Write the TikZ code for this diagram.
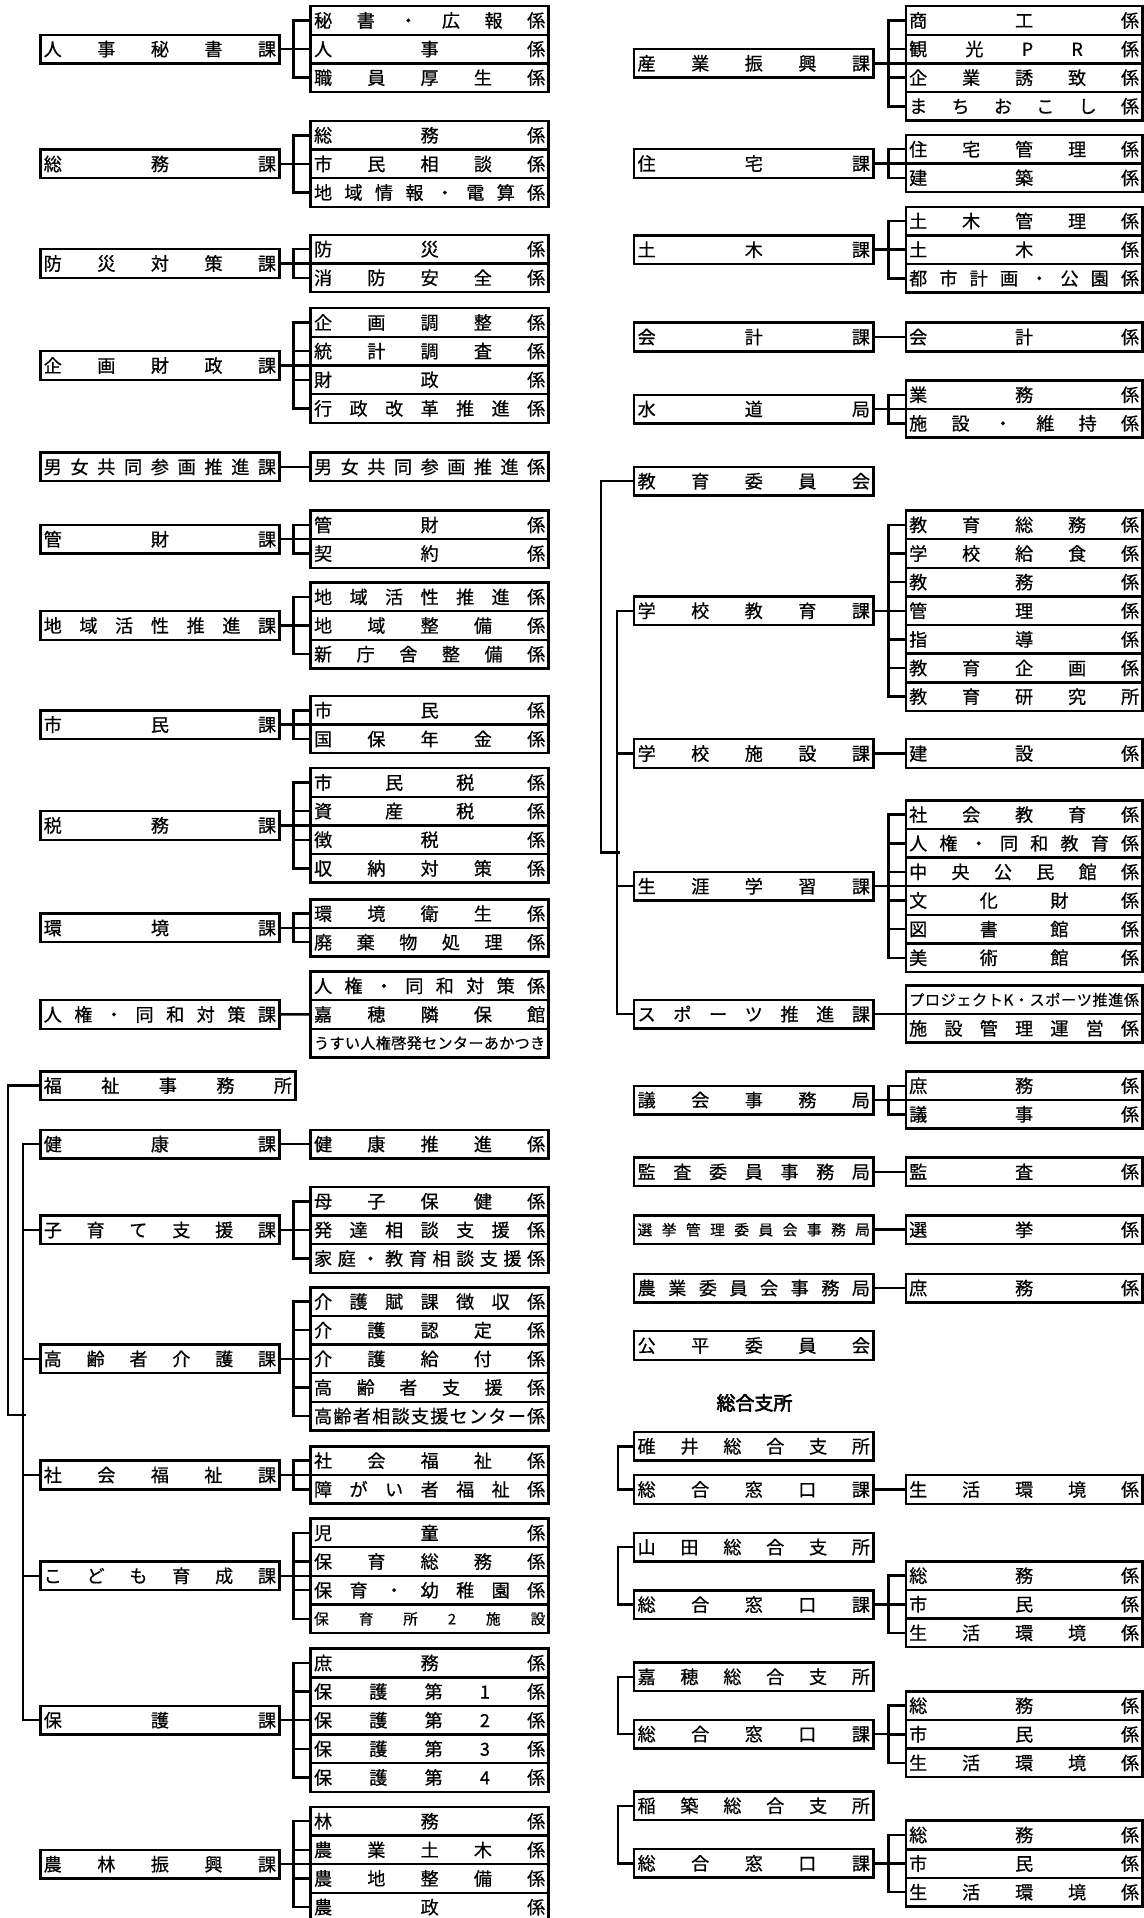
\documentclass[tikz,border=0pt]{standalone}
\usepackage{fontspec}
\setmainfont{Noto Sans CJK JP}[FakeBold=0.6]
\newfontfamily\hdrfont{Noto Sans CJK JP}[FakeBold=3]
\def\gobbleone#1{}
\def\spreadA#1#2{#1\ifx\relax#2\expandafter\gobbleone\else\hfil\expandafter\spreadA\fi#2}
\newcommand\SP[2]{\hbox to #1{\expandafter\spreadA#2\relax}}
\newcommand\smf{\fontsize{12.4}{13}\selectfont}
\newcommand\smg{\fontsize{12}{12}\selectfont}
\tikzset{
  bx/.style={draw, line width=2pt, inner sep=0pt, minimum height=23.4pt, font=\fontsize{14.8}{15}\selectfont},
  pl/.style={bx, minimum width=195.5pt},
  pr/.style={bx, minimum width=195.5pt},
  cl/.style={bx, minimum width=194.5pt},
  cr/.style={bx, minimum width=193.5pt},
  ln/.style={line width=2pt, line cap=rect, line join=miter},
  hdr/.style={font=\hdrfont\fontsize{15.5}{16}\selectfont}
}
\newcommand\PL[4][]{\node[pl,#1] (#2) at (130.75,#3) {\SP{190pt}{#4}};}
\newcommand\PR[4][]{\node[pr,#1] (#2) at (616.25,#3) {\SP{190pt}{#4}};}
\newcommand\CL[5][]{\node[cl,#1] (#2) at (351.25,{#3+(#4-0.5)*23.4}) {\SP{189pt}{#5}};}
\newcommand\CR[5][]{\node[cr,#1] (#2) at (837.25,{#3+(#4-0.5)*23.4}) {\SP{188pt}{#5}};}
\newcommand\grp[3]{%
  \draw[ln] (#1.east) -- (#1.east -| #2-1.west);
  \draw[ln] (#2-1.west) -- ++(-13,0) |- (#2-#3.west);
  \foreach \k in {1,...,#3} {\draw[ln] (#2-\k.west) -- ++(-13,0);}
}
\begin{document}
\begin{tikzpicture}[x=1pt,y=-1pt]
\useasboundingbox (0,0) rectangle (935,1568);
\fill[white] (0,0) rectangle (935,1568);

% ---------------- left column ----------------
\PL{L1}{40.1}{人事秘書課}
\CL{L1-1}{5}{1}{秘書・広報係}
\CL{L1-2}{5}{2}{人事係}
\CL{L1-3}{5}{3}{職員厚生係}
\grp{L1}{L1}{3}

\PL{L2}{134}{総務課}
\CL{L2-1}{98.9}{1}{総務係}
\CL{L2-2}{98.9}{2}{市民相談係}
\CL{L2-3}{98.9}{3}{地域情報・電算係}
\grp{L2}{L2}{3}

\PL{L3}{215.4}{防災対策課}
\CL{L3-1}{192}{1}{防災係}
\CL{L3-2}{192}{2}{消防安全係}
\grp{L3}{L3}{2}

\PL{L4}{298.8}{企画財政課}
\CL{L4-1}{252}{1}{企画調整係}
\CL{L4-2}{252}{2}{統計調査係}
\CL{L4-3}{252}{3}{財政係}
\CL{L4-4}{252}{4}{行政改革推進係}
\grp{L4}{L4}{4}

\PL{L5}{381.7}{男女共同参画推進課}
\CL{L5-1}{381.7}{0.5}{男女共同参画推進係}
\draw[ln] (L5.east) -- (L5-1.west);

\PL{L6}{440.8}{管財課}
\CL{L6-1}{417.4}{1}{管財係}
\CL{L6-2}{417.4}{2}{契約係}
\grp{L6}{L6}{2}

\PL{L7}{511.4}{地域活性推進課}
\CL{L7-1}{476.3}{1}{地域活性推進係}
\CL{L7-2}{476.3}{2}{地域整備係}
\CL{L7-3}{476.3}{3}{新庁舎整備係}
\grp{L7}{L7}{3}

\PL{L8}{592.4}{市民課}
\CL{L8-1}{569}{1}{市民係}
\CL{L8-2}{569}{2}{国保年金係}
\grp{L8}{L8}{2}

\PL{L9}{674.8}{税務課}
\CL{L9-1}{628}{1}{市民税係}
\CL{L9-2}{628}{2}{資産税係}
\CL{L9-3}{628}{3}{徴税係}
\CL{L9-4}{628}{4}{収納対策係}
\grp{L9}{L9}{4}

\PL{L10}{758.6}{環境課}
\CL{L10-1}{735.2}{1}{環境衛生係}
\CL{L10-2}{735.2}{2}{廃棄物処理係}
\grp{L10}{L10}{2}

\PL{L11}{829.3}{人権・同和対策課}
\CL{L11-1}{794.2}{1}{人権・同和対策係}
\CL{L11-2}{794.2}{2}{嘉穂隣保館}
\CL[font=\smf]{L11-3}{794.2}{3}{うすい人権啓発センターあかつき}
\draw[ln] (L11.east) -- (L11-2.west);

\node[bx, minimum width=208.5pt] (L12) at (137.25,887.5) {\SP{203pt}{福祉事務所}};

\PL{L13}{935.3}{健康課}
\CL{L13-1}{935.3}{0.5}{健康推進係}
\draw[ln] (L13.east) -- (L13-1.west);

\PL{L14}{1005.5}{子育て支援課}
\CL{L14-1}{970.4}{1}{母子保健係}
\CL{L14-2}{970.4}{2}{発達相談支援係}
\CL{L14-3}{970.4}{3}{家庭・教育相談支援係}
\grp{L14}{L14}{3}

\PL{L15}{1110.9}{高齢者介護課}
\CL{L15-1}{1052.4}{1}{介護賦課徴収係}
\CL{L15-2}{1052.4}{2}{介護認定係}
\CL{L15-3}{1052.4}{3}{介護給付係}
\CL{L15-4}{1052.4}{4}{高齢者支援係}
\CL{L15-5}{1052.4}{5}{高齢者相談支援センター係}
\grp{L15}{L15}{5}

\PL{L16}{1205.8}{社会福祉課}
\CL{L16-1}{1182.4}{1}{社会福祉係}
\CL{L16-2}{1182.4}{2}{障がい者福祉係}
\grp{L16}{L16}{2}

\PL{L17}{1288.3}{こども育成課}
\CL{L17-1}{1241.5}{1}{児童係}
\CL{L17-2}{1241.5}{2}{保育総務係}
\CL{L17-3}{1241.5}{3}{保育・幼稚園係}
\CL[font=\smg]{L17-4}{1241.5}{4}{保育所2施設}
\grp{L17}{L17}{4}

\PL{L18}{1406.3}{保護課}
\CL{L18-1}{1347.8}{1}{庶務係}
\CL{L18-2}{1347.8}{2}{保護第1係}
\CL{L18-3}{1347.8}{3}{保護第2係}
\CL{L18-4}{1347.8}{4}{保護第3係}
\CL{L18-5}{1347.8}{5}{保護第4係}
\grp{L18}{L18}{5}

\PL{L19}{1524}{農林振興課}
\CL{L19-1}{1477.2}{1}{林務係}
\CL{L19-2}{1477.2}{2}{農業土木係}
\CL{L19-3}{1477.2}{3}{農地整備係}
\CL{L19-4}{1477.2}{4}{農政係}
\grp{L19}{L19}{4}

% welfare buses
\coordinate (jL) at (20,1157);
\draw[ln] (L13.west) -- ++(-13,0) |- (L18.west);
\foreach \p in {L14,L15,L16,L17} {\draw[ln] (\p.west) -- ++(-13,0);}
\draw[ln] (L12.west) -- ++(-25.5,0) |- (jL);

% ---------------- right column ----------------
\PR{R1}{51.8}{産業振興課}
\CR{R1-1}{5}{1}{商工係}
\CR{R1-2}{5}{2}{観光PR係}
\CR{R1-3}{5}{3}{企業誘致係}
\CR{R1-4}{5}{4}{まちおこし係}
\grp{R1}{R1}{4}

\PR{R2}{133.7}{住宅課}
\CR{R2-1}{110.3}{1}{住宅管理係}
\CR{R2-2}{110.3}{2}{建築係}
\grp{R2}{R2}{2}

\PR{R3}{204.1}{土木課}
\CR{R3-1}{169}{1}{土木管理係}
\CR{R3-2}{169}{2}{土木係}
\CR{R3-3}{169}{3}{都市計画・公園係}
\grp{R3}{R3}{3}

\PR{R4}{275.5}{会計課}
\CR{R4-1}{275.5}{0.5}{会計係}
\draw[ln] (R4.east) -- (R4-1.west);

\PR{R5}{334.4}{水道局}
\CR{R5-1}{311}{1}{業務係}
\CR{R5-2}{311}{2}{施設・維持係}
\grp{R5}{R5}{2}

\PR{R6}{393.4}{教育委員会}

\PR{R7}{499.3}{学校教育課}
\CR{R7-1}{417.4}{1}{教育総務係}
\CR{R7-2}{417.4}{2}{学校給食係}
\CR{R7-3}{417.4}{3}{教務係}
\CR{R7-4}{417.4}{4}{管理係}
\CR{R7-5}{417.4}{5}{指導係}
\CR{R7-6}{417.4}{6}{教育企画係}
\CR{R7-7}{417.4}{7}{教育研究所}
\grp{R7}{R7}{7}

\PR{R8}{616}{学校施設課}
\CR{R8-1}{616}{0.5}{建設係}
\draw[ln] (R8.east) -- (R8-1.west);

\PR{R9}{724.5}{生涯学習課}
\CR{R9-1}{654.3}{1}{社会教育係}
\CR{R9-2}{654.3}{2}{人権・同和教育係}
\CR{R9-3}{654.3}{3}{中央公民館係}
\CR{R9-4}{654.3}{4}{文化財係}
\CR{R9-5}{654.3}{5}{図書館係}
\CR{R9-6}{654.3}{6}{美術館係}
\grp{R9}{R9}{6}

\PR{R10}{829}{スポーツ推進課}
\CR[font=\smf]{R10-1}{805.6}{1}{プロジェクトK・スポーツ推進係}
\CR{R10-2}{805.6}{2}{施設管理運営係}
\draw[ln] (R10.east) -- (R10.east -| R10-1.west);

% education buses
\coordinate (jR) at (505.5,697);
\draw[ln] (R7.west) -- ++(-13,0) |- (R10.west);
\foreach \p in {R8,R9} {\draw[ln] (\p.west) -- ++(-13,0);}
\draw[ln] (R6.west) -- ++(-26,0) |- (jR);

\PR{R11}{899.3}{議会事務局}
\CR{R11-1}{875.9}{1}{庶務係}
\CR{R11-2}{875.9}{2}{議事係}
\grp{R11}{R11}{2}

\PR{R12}{958}{監査委員事務局}
\CR{R12-1}{958}{0.5}{監査係}
\draw[ln] (R12.east) -- (R12-1.west);

\PR[font=\smg]{R13}{1005.3}{選挙管理委員会事務局}
\CR{R13-1}{1005.3}{0.5}{選挙係}
\draw[ln] (R13.east) -- (R13-1.west);

\PR{R14}{1053}{農業委員会事務局}
\CR{R14-1}{1053}{0.5}{庶務係}
\draw[ln] (R14.east) -- (R14-1.west);

\PR{R15}{1100}{公平委員会}

\node[hdr] (H) at (616.8,1146.8) {総合支所};

\PR{S1}{1182.4}{碓井総合支所}
\PR{S1m}{1217.7}{総合窓口課}
\CR{S1m-1}{1217.7}{0.5}{生活環境係}
\draw[ln] (S1m.east) -- (S1m-1.west);
\draw[ln] (S1.west) -- ++(-12.5,0) |- (S1m.west);

\PR{S2}{1264.8}{山田総合支所}
\PR{S2m}{1311.8}{総合窓口課}
\CR{S2m-1}{1276.4}{1}{総務係}
\CR{S2m-2}{1276.4}{2}{市民係}
\CR{S2m-3}{1276.4}{3}{生活環境係}
\grp{S2m}{S2m}{3}
\draw[ln] (S2.west) -- ++(-12.5,0) |- (S2m.west);

\PR{S3}{1370.8}{嘉穂総合支所}
\PR{S3m}{1417.6}{総合窓口課}
\CR{S3m-1}{1382.7}{1}{総務係}
\CR{S3m-2}{1382.7}{2}{市民係}
\CR{S3m-3}{1382.7}{3}{生活環境係}
\grp{S3m}{S3m}{3}
\draw[ln] (S3.west) -- ++(-12.5,0) |- (S3m.west);

\PR{S4}{1476.2}{稲築総合支所}
\PR{S4m}{1523.3}{総合窓口課}
\CR{S4m-1}{1488.4}{1}{総務係}
\CR{S4m-2}{1488.4}{2}{市民係}
\CR{S4m-3}{1488.4}{3}{生活環境係}
\grp{S4m}{S4m}{3}
\draw[ln] (S4.west) -- ++(-12.5,0) |- (S4m.west);
\end{tikzpicture}
\end{document}
